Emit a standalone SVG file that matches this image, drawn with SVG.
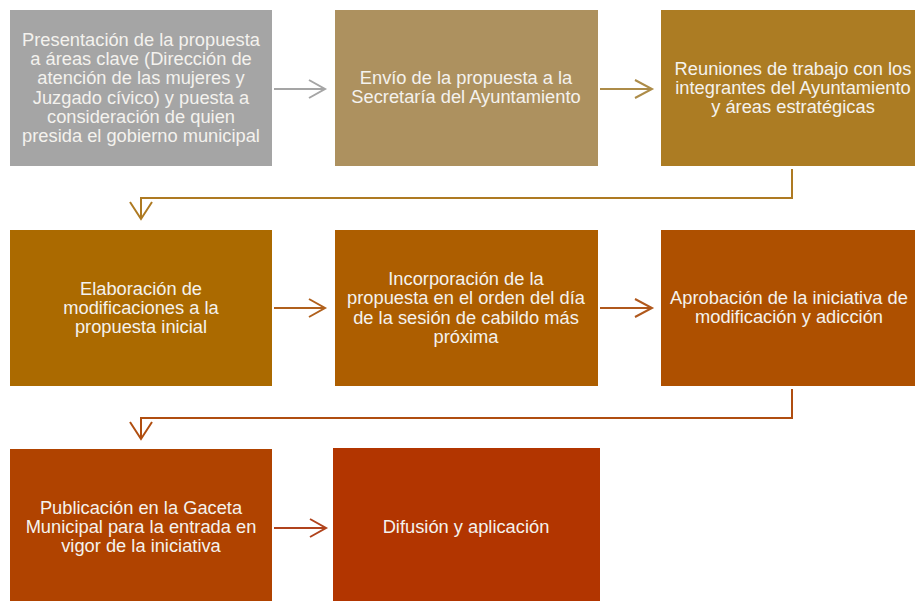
<svg xmlns="http://www.w3.org/2000/svg" width="915" height="601" viewBox="0 0 915 601">
<style>
  text { font-family: "Liberation Sans", Arial, sans-serif; font-size: 18.3px; fill: #f4f2ee; text-anchor: middle; }
  .c { fill: none; stroke-width: 2; stroke-linejoin: miter; }
</style>
<rect width="915" height="601" fill="#ffffff"/>
<g id="n1"><rect x="10" y="10" width="262" height="156" fill="#a5a5a5"/>
  <text x="141"><tspan x="141" y="46">Presentación de la propuesta</tspan><tspan x="141" y="65">a áreas clave (Dirección de</tspan><tspan x="141" y="84">atención de las mujeres y</tspan><tspan x="141" y="104">Juzgado cívico) y puesta a</tspan><tspan x="141" y="123">consideración de quien</tspan><tspan x="141" y="142">presida el gobierno municipal</tspan></text></g>
<g id="n2"><rect x="335" y="10" width="263" height="156" fill="#ad915f"/>
  <text><tspan x="466" y="84">Envío de la propuesta a la</tspan><tspan x="466" y="103">Secretaría del Ayuntamiento</tspan></text></g>
<g id="n3"><rect x="661" y="10" width="254" height="156" fill="#ac7c23"/>
  <text><tspan x="793" y="75">Reuniones de trabajo con los</tspan><tspan x="793" y="94">integrantes del Ayuntamiento</tspan><tspan x="793" y="113">y áreas estratégicas</tspan></text></g>
<g id="n4"><rect x="10" y="230" width="262" height="156" fill="#ab6a00"/>
  <text><tspan x="141" y="295">Elaboración de</tspan><tspan x="141" y="314">modificaciones a la</tspan><tspan x="141" y="333">propuesta inicial</tspan></text></g>
<g id="n5"><rect x="335" y="230" width="263" height="156" fill="#ad5e00"/>
  <text><tspan x="466" y="285">Incorporación de la</tspan><tspan x="466" y="304">propuesta en el orden del día</tspan><tspan x="466" y="324">de la sesión de cabildo más</tspan><tspan x="466" y="343">próxima</tspan></text></g>
<g id="n6"><rect x="661" y="230" width="254" height="156" fill="#ae5000"/>
  <text><tspan x="789" y="304">Aprobación de la iniciativa de</tspan><tspan x="789" y="323">modificación y adicción</tspan></text></g>
<g id="n7"><rect x="10" y="449" width="262" height="156" fill="#b04300"/>
  <text><tspan x="141" y="514">Publicación en la Gaceta</tspan><tspan x="141" y="533">Municipal para la entrada en</tspan><tspan x="141" y="552">vigor de la iniciativa</tspan></text></g>
<g id="n8"><rect x="333" y="448" width="267" height="157" fill="#b23500"/>
  <text x="466" y="533">Difusión y aplicación</text></g>
<g id="connectors">
  <path class="c" stroke="#a5a5a5" d="M274 89 H325 M309 80 L325 89 L309 98"/>
  <path class="c" stroke="#ad8c48" d="M600 89 H652 M635 80 L652 89 L635 98"/>
  <path class="c" stroke="#ae7a22" d="M792 169 V198 H141 V219 M130 202 L141 219 L152 202"/>
  <path class="c" stroke="#b0601c" d="M274 308 H325 M309 299 L325 308 L309 317"/>
  <path class="c" stroke="#b0581c" d="M600 308 H652 M635 299 L652 308 L635 317"/>
  <path class="c" stroke="#b04e10" d="M792 389 V418 H141 V439 M130 422 L141 439 L152 422"/>
  <path class="c" stroke="#b0431c" d="M274 528 H326 M310 519 L326 528 L310 537"/>
</g>
</svg>
